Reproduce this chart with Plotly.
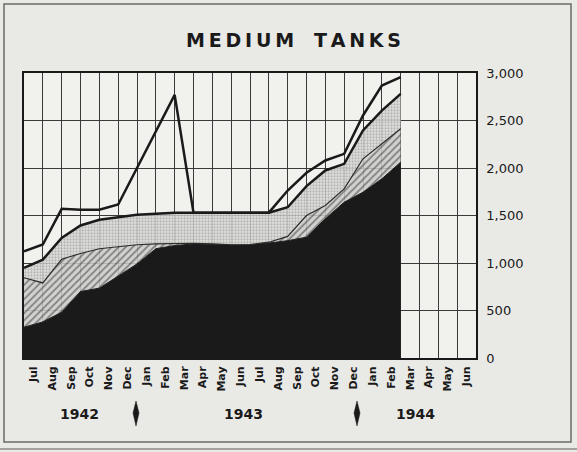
"""Medium tanks chart, redrawn with Plotly."""
import plotly.graph_objects as go

# month columns Jul 1942 .. Jun 1944
months = ["Jul", "Aug", "Sep", "Oct", "Nov", "Dec", "Jan", "Feb", "Mar", "Apr", "May", "Jun",
          "Jul", "Aug", "Sep", "Oct", "Nov", "Dec", "Jan", "Feb", "Mar", "Apr", "May", "Jun"]
years = ["1942", "1943", "1944"]

# values at month boundaries (Jul 1942 start .. end of Feb 1944)
points = list(range(21))
black_top = [324, 380, 482, 700, 735, 860, 990, 1150, 1184, 1200, 1200, 1195, 1195,
             1210, 1235, 1272, 1465, 1640, 1745, 1886, 2061]
hatch_top = [845, 790, 1040, 1100, 1150, 1175, 1192, 1202, 1208, 1208, 1202, 1192, 1195,
             1219, 1280, 1500, 1605, 1780, 2097, 2255, 2413]
dotted_top = [950, 1035, 1265, 1395, 1455, 1482, 1507, 1518, 1528, 1530, 1530, 1530, 1530,
              1530, 1587, 1810, 1974, 2044, 2395, 2605, 2781]
upper_line = [1124, 1195, 1570, 1560, 1560, 1616, 2000, 2380, 2770, 1530, 1530, 1530, 1530,
              1530, 1763, 1950, 2079, 2149, 2553, 2868, 2956]

y_ticks = [0, 500, 1000, 1500, 2000, 2500, 3000]

INK = "#1a1a1a"
PAPER = "#e9e9e6"
FONT = "DejaVu Sans"

fig = go.Figure()

fig.add_trace(go.Scatter(
    x=points, y=black_top, mode="lines", fill="tozeroy",
    fillcolor=INK, line=dict(color=INK, width=1), hoverinfo="skip"))

fig.add_trace(go.Scatter(
    x=points, y=hatch_top, mode="lines", fill="tonexty",
    fillpattern=dict(shape="/", fgcolor="#333333", bgcolor="rgba(205,205,202,0.85)",
                     size=5, solidity=0.35),
    line=dict(color="#2a2a2a", width=1.2), hoverinfo="skip"))

fig.add_trace(go.Scatter(
    x=points, y=dotted_top, mode="lines", fill="tonexty",
    fillpattern=dict(shape=".", fgcolor="#8a8a8a", bgcolor="rgba(222,222,219,0.85)",
                     size=3, solidity=0.45),
    line=dict(color=INK, width=2.5), hoverinfo="skip"))

fig.add_trace(go.Scatter(
    x=points, y=upper_line, mode="lines",
    line=dict(color=INK, width=2.5), hoverinfo="skip"))

# plot area: x 24..476 px, y 73..358 px
L, R, T, B = 24, 476, 73, 358
W, H = R - L, B - T


def px(x):
    return (x - L) / W


def py(y):
    return (B - y) / H


shapes = [
    dict(type="rect", xref="paper", yref="paper", x0=px(4), x1=px(571), y0=py(442), y1=py(4),
         line=dict(color="#6a6a6a", width=1.5)),
    dict(type="line", xref="paper", yref="paper", x0=px(0), x1=px(577), y0=py(449), y1=py(449),
         line=dict(color="#8a8a8a", width=1.5)),
]
# year dividers (tall diamonds)
for cx in [136, 357]:
    xc = px(cx)
    dx = 3 / W
    shapes.append(dict(
        type="path", xref="paper", yref="paper",
        path=f"M {xc},{py(401)} L {xc + dx},{py(413)} L {xc},{py(426)} L {xc - dx},{py(413)} Z",
        fillcolor=INK, line=dict(color=INK, width=0.5)))

thin = "\u2009"
title = thin.join("MEDIUM") + "\u00a0\u00a0\u00a0" + thin.join("TANKS")
annotations = [
    dict(text=title, xref="paper", yref="paper", x=px(293), y=py(40),
         xanchor="center", yanchor="middle", showarrow=False,
         font=dict(family=FONT, size=19, color=INK, weight="bold")),
]
for label, cx in zip(years, [79, 243, 415]):
    annotations.append(dict(
        text=label, xref="paper", yref="paper", x=px(cx), y=py(414),
        xanchor="center", yanchor="middle", showarrow=False,
        font=dict(family=FONT, size=14, color=INK, weight="bold")))

fig.update_layout(
    width=577, height=452,
    margin=dict(l=L, r=577 - R, t=T, b=452 - B),
    paper_bgcolor=PAPER, plot_bgcolor="#f1f1ee",
    showlegend=False,
    shapes=shapes, annotations=annotations,
)

fig.update_xaxes(
    range=[0, 24], tickmode="array",
    tickvals=[i + 0.5 for i in range(24)], ticktext=months,
    tickangle=-90, ticks="", ticklabelstandoff=2,
    tickfont=dict(family=FONT, size=11, color=INK, weight="bold"),
    showgrid=False, zeroline=False,
    minor=dict(tick0=0, dtick=1, showgrid=True, gridcolor="#3a3a3a", gridwidth=1.3),
    showline=True, linecolor=INK, linewidth=2, mirror=True,
)
fig.update_yaxes(
    range=[0, 3000], side="right", tickmode="array",
    tickvals=y_ticks, ticktext=[f"{v:,}" for v in y_ticks],
    ticks="", ticklabelstandoff=6,
    tickfont=dict(family=FONT, size=13, color=INK),
    showgrid=True, gridcolor="#3a3a3a", gridwidth=1.3, zeroline=False,
    showline=True, linecolor=INK, linewidth=1.5, mirror=True,
)

fig.write_html("out.html", config={"displayModeBar": False},
               post_script="document.body.style.margin='0';")
